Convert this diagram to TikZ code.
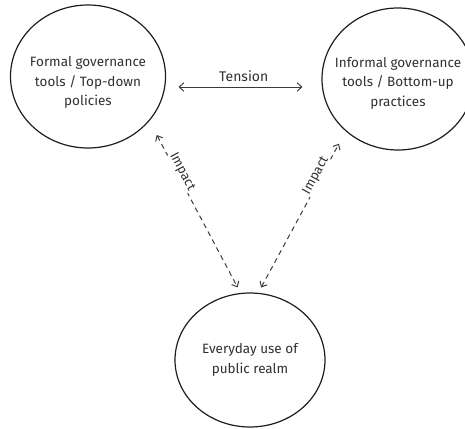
\documentclass[tikz,border=0pt]{standalone}
\usepackage{fontspec}
\setmainfont{Fira Sans}
\usetikzlibrary{arrows.meta,shapes.geometric}
\definecolor{ink}{HTML}{1E1E1E}
\definecolor{txtc}{HTML}{303030}
\definecolor{linec}{HTML}{3A3A3A}
\begin{document}
\begin{tikzpicture}[x=1pt,y=1pt,
  ell/.style={ellipse,draw=ink,line width=1.2pt,inner sep=0pt},
  txt/.style={align=center,font=\fontsize{13.5}{19.5}\selectfont,text=txtc},
  tens/.style={draw=linec,line width=1pt,{Straight Barb[length=4.5pt,width=8.5pt]}-{Straight Barb[length=4.5pt,width=8.5pt]}},
  imp/.style={draw=linec,line width=1pt,dash pattern=on 5pt off 4pt,{Straight Barb[length=4.5pt,width=8pt]}-{Straight Barb[length=4.5pt,width=8pt]}},
  lab/.style={font=\fontsize{13}{15}\selectfont,text=txtc,fill=white,inner sep=1pt,sloped}]
\useasboundingbox (0,0) rectangle (465,-428);
\begin{scope}
\clip (0,0) rectangle (465,-428);
\node[ell,minimum width=155pt,minimum height=143pt] (L) at (88,-76.5) {};
\node[ell,minimum width=152pt,minimum height=142pt] (R) at (398,-79) {};
\node[ell,minimum width=150pt,minimum height=134pt] (B) at (250,-360) {};
\end{scope}
\node[txt] (Lt) at ([yshift=-6]L.center) {Formal governance\\tools / Top-down\\policies};
\node[txt] (Rt) at ([yshift=-4]R.center) {Informal governance\\tools / Bottom-up\\practices};
\node[txt] (Bt) at (B.center) {Everyday use of\\public realm};
\draw[tens,shorten <=12.5pt,shorten >=19pt] ([yshift=-10.5pt]L.east) -- node[txt,above=1pt,font=\fontsize{14}{15}\selectfont] (tl) {Tension} ([yshift=-8pt]R.west);
\draw[imp,shorten <=15.8pt,shorten >=6.3pt] (L.-36.3) -- node[lab,pos=0.31,yshift=5pt] (il) {Impact} (B.98.6);
\draw[imp,shorten <=6pt,shorten >=14.1pt] (B.83.9) -- node[lab,pos=0.71,yshift=5pt] (ir) {Impact} (R.-135.3);
\end{tikzpicture}
\end{document}
